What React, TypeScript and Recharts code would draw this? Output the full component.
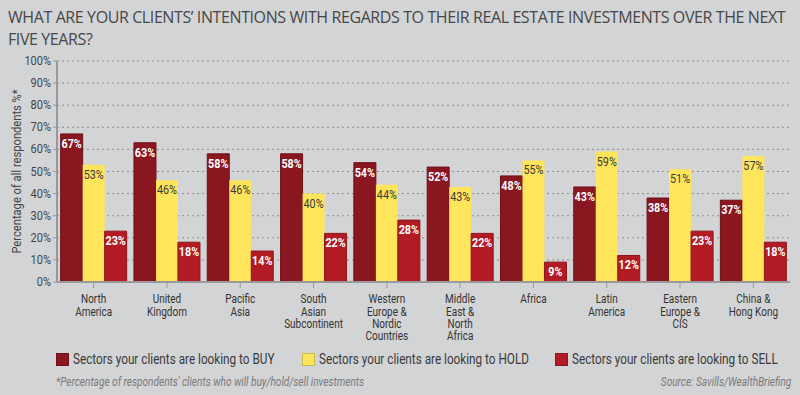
import React from "react";
import {
  BarChart,
  Bar,
  XAxis,
  YAxis,
  CartesianGrid,
  LabelList,
} from "recharts";

const regions = [
  "North\nAmerica",
  "United\nKingdom",
  "Pacific\nAsia",
  "South\nAsian\nSubcontinent",
  "Western\nEurope &\nNordic\nCountries",
  "Middle\nEast &\nNorth\nAfrica",
  "Africa",
  "Latin\nAmerica",
  "Eastern\nEurope &\nCIS",
  "China &\nHong Kong",
];
const buy = [67, 63, 58, 58, 54, 52, 48, 43, 38, 37];
const hold = [53, 46, 46, 40, 44, 43, 55, 59, 51, 57];
const sell = [23, 18, 14, 22, 28, 22, 9, 12, 23, 18];
const yTicks = [0, 10, 20, 30, 40, 50, 60, 70, 80, 90, 100];

const data = regions.map((region, i) => ({
  region,
  buy: buy[i],
  hold: hold[i],
  sell: sell[i],
}));

const BUY = "#8a1620";
const HOLD = "#ffe55c";
const SELL = "#b21b24";
const BG = "#d3d4d6";
const FONT = "Roboto, 'Open Sans', sans-serif";

// the reference uses a condensed face, so squeeze Roboto horizontally
function RegionTick({ x, y, payload }: any) {
  const lines = String(payload.value).split("\n");
  return (
    <g transform={`translate(${x} ${y + 13}) scale(0.74 1)`}>
      <text x={0} y={0} textAnchor="middle" fontSize={13.5} fill="#333" fontFamily={FONT}>
        {lines.map((l, i) => (
          <tspan key={i} x={0} dy={i === 0 ? 0 : 12.5}>
            {l}
          </tspan>
        ))}
      </text>
    </g>
  );
}

function PctTick({ x, y, payload }: any) {
  return (
    <g transform={`translate(${x} ${y + 4}) scale(0.88 1)`}>
      <text x={0} y={0} textAnchor="end" fontSize={12.5} fill="#444" fontFamily={FONT}>
        {payload.value}%
      </text>
    </g>
  );
}

function YLabel({ viewBox }: any) {
  const cy = viewBox.y + viewBox.height / 2;
  return (
    <g transform={`translate(21 ${cy}) rotate(-90) scale(0.86 1)`}>
      <text x={0} y={0} textAnchor="middle" fontSize={13} fill="#444" fontFamily={FONT}>
        Percentage of all respondents %*
      </text>
    </g>
  );
}

function barLabel(color: string, weight: string) {
  return (props: any) => {
    const { x, y, width, value } = props;
    return (
      <g transform={`translate(${x + width / 2} ${y + 14}) scale(0.8 1)`}>
        <text x={0} y={0} textAnchor="middle" fontSize={13.5} fontWeight={weight} fill={color} fontFamily={FONT}>
          {value}%
        </text>
      </g>
    );
  };
}

const legendItems = [
  { color: BUY, text: "Sectors your clients are looking to BUY", left: 56 },
  { color: HOLD, text: "Sectors your clients are looking to HOLD", left: 302 },
  { color: SELL, text: "Sectors your clients are looking to SELL", left: 555 },
];

export default function App() {
  return (
    <div
      style={{
        position: "fixed",
        left: 0,
        top: 0,
        width: 800,
        height: 395,
        background: BG,
        fontFamily: "'Open Sans', sans-serif",
      }}
    >
      <div
        style={{
          position: "absolute",
          left: 8,
          top: 6,
          width: 790,
          fontSize: 16,
          lineHeight: "22px",
          color: "#474747",
          letterSpacing: -0.4,
        }}
      >
        WHAT ARE YOUR CLIENTS’ INTENTIONS WITH REGARDS TO THEIR REAL ESTATE INVESTMENTS OVER THE NEXT
        <br />
        FIVE YEARS?
      </div>
      <BarChart
        width={800}
        height={395}
        data={data}
        margin={{ top: 61, right: 10, bottom: 83, left: 0 }}
        barCategoryGap="5%"
        barGap={0}
        style={{ position: "absolute", left: 0, top: 0 }}
      >
        <CartesianGrid vertical={false} stroke="#8f8f8f" strokeDasharray="2 3" />
        <XAxis
          dataKey="region"
          interval={0}
          tick={<RegionTick />}
          tickLine={{ stroke: "#999" }}
          axisLine={{ stroke: "#999", strokeWidth: 2 }}
          tickSize={6}
        />
        <YAxis
          width={57}
          domain={[0, 100]}
          ticks={yTicks}
          interval={0}
          tick={<PctTick />}
          tickLine={{ stroke: "#999" }}
          axisLine={{ stroke: "#999", strokeWidth: 2 }}
          tickSize={4}
          label={<YLabel />}
        />
        <Bar dataKey="buy" fill={BUY} stroke="#6e1018" strokeWidth={1} isAnimationActive={false}>
          <LabelList dataKey="buy" content={barLabel("#fff", "bold")} />
        </Bar>
        <Bar dataKey="hold" fill={HOLD} isAnimationActive={false}>
          <LabelList dataKey="hold" content={barLabel("#3a3a3a", "normal")} />
        </Bar>
        <Bar dataKey="sell" fill={SELL} stroke="#8e141b" strokeWidth={1} isAnimationActive={false}>
          <LabelList dataKey="sell" content={barLabel("#fff", "bold")} />
        </Bar>
      </BarChart>
      {legendItems.map((it) => (
        <div
          key={it.text}
          style={{
            position: "absolute",
            left: it.left,
            top: 351,
            display: "flex",
            alignItems: "center",
            whiteSpace: "nowrap",
          }}
        >
          <span style={{ display: "inline-block", width: 13, height: 13, background: it.color, marginRight: 4, boxShadow: "inset 0 0 0 1px rgba(0,0,0,0.2)" }} />
          <span
            style={{
              display: "inline-block",
              fontFamily: FONT,
              fontSize: 14.5,
              color: "#3a3a3a",
              transform: "scaleX(0.81)",
              transformOrigin: "left center",
            }}
          >
            {it.text}
          </span>
        </div>
      ))}
      <div
        style={{
          position: "absolute",
          left: 56,
          top: 375,
          fontFamily: FONT,
          fontStyle: "italic",
          fontSize: 12,
          color: "#7a7a7a",
          whiteSpace: "nowrap",
          transform: "scaleX(0.84)",
          transformOrigin: "left center",
        }}
      >
        *Percentage of respondents' clients who will buy/hold/sell investments
      </div>
      <div
        style={{
          position: "absolute",
          right: 9,
          top: 375,
          fontFamily: FONT,
          fontStyle: "italic",
          fontSize: 12,
          color: "#7a7a7a",
          whiteSpace: "nowrap",
          transform: "scaleX(0.84)",
          transformOrigin: "right center",
        }}
      >
        Source: Savills/WealthBriefing
      </div>
    </div>
  );
}
